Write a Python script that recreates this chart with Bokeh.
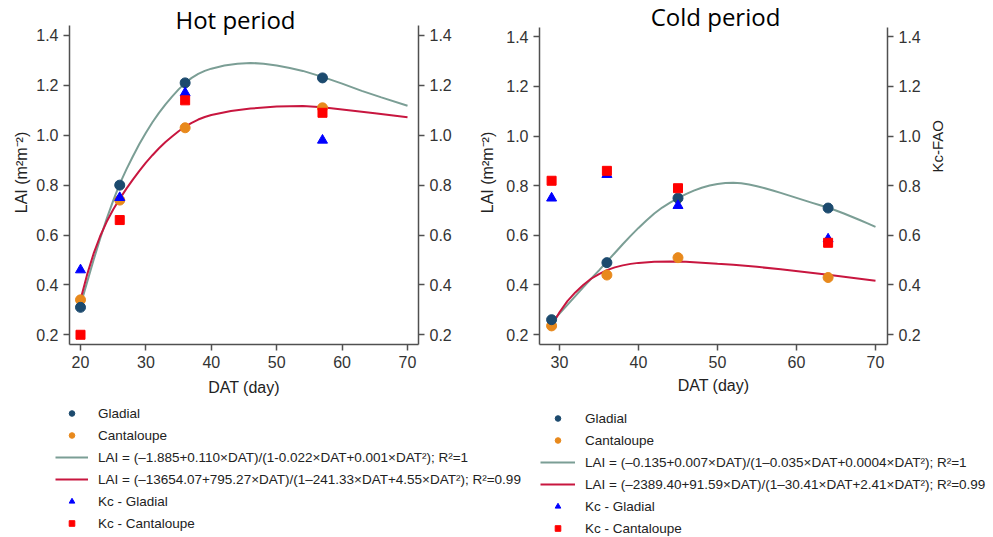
import math
from bokeh.plotting import figure
from bokeh.models import (Range1d, LinearAxis, FixedTicker, PrintfTickFormatter,
                          Label, Legend, LegendItem)
from bokeh.layouts import column, row
from bokeh.embed import file_html
from bokeh.resources import INLINE

# ---------------- data ----------------
y_ticks = [0.2, 0.4, 0.6, 0.8, 1.0, 1.2, 1.4]
hot_x_ticks = [20, 30, 40, 50, 60, 70]
cold_x_ticks = [30, 40, 50, 60, 70]

hot_days = [20, 26, 36, 57]
hot_lai_gladial = [0.31, 0.80, 1.21, 1.23]
hot_lai_cantaloupe = [0.34, 0.74, 1.03, 1.11]
hot_kc_gladial = [0.46, 0.75, 1.17, 0.98]
hot_kc_cantaloupe = [0.20, 0.66, 1.14, 1.09]

hot_fit_days_gladial = [20, 21, 22, 23, 24, 25, 26, 27, 28, 29, 30, 31, 32, 33, 34, 35, 36, 37, 38, 39, 40,
                        42, 44, 46, 48, 50, 52, 54, 57, 60, 63, 66, 70]
hot_fit_gladial = [0.32, 0.41, 0.50, 0.585, 0.665, 0.738, 0.805, 0.862, 0.915, 0.965, 1.01, 1.052, 1.09,
                   1.124, 1.155, 1.184, 1.209, 1.23, 1.246, 1.258, 1.267,
                   1.28, 1.287, 1.29, 1.287, 1.28, 1.27, 1.258, 1.234, 1.207, 1.178, 1.152, 1.118]
hot_fit_days_cantaloupe = [20, 21, 22, 23, 24, 25, 26, 27, 28, 29, 30, 31, 32, 33, 34, 35, 36, 37, 38, 39, 40,
                           43, 46, 50, 54, 57, 60, 65, 70]
hot_fit_cantaloupe = [0.34, 0.44, 0.525, 0.595, 0.653, 0.702, 0.745, 0.785, 0.822, 0.857, 0.89, 0.92, 0.948,
                      0.973, 0.995, 1.016, 1.035, 1.05, 1.063, 1.073, 1.081,
                      1.097, 1.107, 1.115, 1.117, 1.112, 1.103, 1.088, 1.072]

cold_days = [29, 36, 45, 64]
cold_lai_gladial = [0.26, 0.49, 0.75, 0.71]
cold_lai_cantaloupe = [0.235, 0.44, 0.51, 0.43]
cold_kc_gladial = [0.75, 0.845, 0.72, 0.585]
cold_kc_cantaloupe = [0.82, 0.86, 0.79, 0.57]

cold_fit_days_gladial = [29, 30, 31, 32, 33, 34, 35, 36, 37, 38, 39, 40, 41, 42, 43, 44, 45, 46, 47, 48, 49,
                         50, 51, 52, 53, 54, 55, 56, 57, 58, 59, 60, 61, 62, 63, 64, 65, 66, 67, 68, 69, 70]
cold_fit_gladial = [0.25, 0.285, 0.32, 0.355, 0.39, 0.425, 0.459, 0.494, 0.529, 0.564, 0.598, 0.630, 0.660,
                    0.688, 0.712, 0.732, 0.750, 0.766, 0.780, 0.792, 0.801, 0.807, 0.811, 0.812, 0.810,
                    0.805, 0.798, 0.790, 0.781, 0.771, 0.761, 0.751, 0.741, 0.731, 0.721, 0.711, 0.700,
                    0.688, 0.675, 0.662, 0.648, 0.634]
cold_fit_days_cantaloupe = [29, 30, 31, 32, 33, 34, 35, 36, 37, 38, 39, 40, 42, 44, 46, 48, 50, 52, 55, 58,
                            61, 64, 67, 70]
cold_fit_cantaloupe = [0.235, 0.29, 0.335, 0.37, 0.40, 0.425, 0.444, 0.46, 0.471, 0.479, 0.485, 0.489,
                       0.494, 0.495, 0.494, 0.490, 0.485, 0.481, 0.473, 0.463, 0.452, 0.441, 0.429, 0.417]

hot_legend_labels = ["Gladial", "Cantaloupe",
                     "LAI = (\u20131.885+0.110\u00d7DAT)/(1-0.022\u00d7DAT+0.001\u00d7DAT\u00b2); R\u00b2=1",
                     "LAI = (\u201313654.07+795.27\u00d7DAT)/(1\u2013241.33\u00d7DAT+4.55\u00d7DAT\u00b2); R\u00b2=0.99",
                     "Kc - Gladial", "Kc - Cantaloupe"]
cold_legend_labels = ["Gladial", "Cantaloupe",
                      "LAI = (\u20130.135+0.007\u00d7DAT)/(1\u20130.035\u00d7DAT+0.0004\u00d7DAT\u00b2); R\u00b2=1",
                      "LAI = (\u20132389.40+91.59\u00d7DAT)/(1\u201330.41\u00d7DAT+2.41\u00d7DAT\u00b2); R\u00b2=0.99",
                      "Kc - Gladial", "Kc - Cantaloupe"]

# ---------------- style ----------------
NAVY = "#1c4a6e"
ORANGE = "#e8891c"
GREEN = "#7b9e95"
CRIMSON = "#c8163f"
BLUE = "#0000ff"
RED = "#ff0000"
AXIS = "#505050"
FONT = "Liberation Sans"
NAN = float("nan")


def style_axis(ax, ticks, fmt=None, label_standoff=5):
    ax.ticker = FixedTicker(ticks=ticks)
    if fmt:
        ax.formatter = PrintfTickFormatter(format=fmt)
    ax.axis_line_color = AXIS
    ax.axis_line_width = 1.5
    ax.major_tick_line_color = AXIS
    ax.major_tick_line_width = 1.5
    ax.major_tick_out = 6
    ax.major_tick_in = 0
    ax.minor_tick_line_color = None
    ax.major_label_text_font = FONT
    ax.major_label_text_font_size = "16px"
    ax.major_label_text_color = "#333333"
    ax.major_label_standoff = 5
    ax.axis_label_text_font = FONT
    ax.axis_label_text_font_size = "16px"
    ax.axis_label_text_font_style = "normal"
    ax.axis_label_text_color = "#222222"
    ax.axis_label_standoff = label_standoff


def make_panel(width, borders, xr, yr, y_top, x_ticks, title, title_pos, days, lai_g, lai_c, kc_g, kc_c,
               fit_days_g, fit_g, fit_days_c, fit_c, bottom_std, left_std, right_label, right_std):
    bl, br, bb = borders
    # frame reaches the top of the canvas so that the title (inside the frame) is not clipped;
    # the vertical axis lines are limited to the data window with `bounds`
    p = figure(width=width, height=400, x_range=Range1d(*xr), y_range=Range1d(yr[0], y_top),
               min_border_left=bl, min_border_right=br, min_border_top=0, min_border_bottom=bb,
               toolbar_location=None, output_backend="svg")
    p.extra_y_ranges = {"kc": Range1d(yr[0], y_top)}
    p.xgrid.visible = False
    p.ygrid.visible = False
    p.outline_line_color = None
    p.background_fill_color = "white"
    p.border_fill_color = "white"

    style_axis(p.xaxis[0], x_ticks, label_standoff=bottom_std)
    p.xaxis[0].axis_label = "DAT (day)"
    style_axis(p.yaxis[0], y_ticks, "%.1f", label_standoff=left_std)
    p.yaxis[0].axis_label = "LAI (m\u00b2m\u207b\u00b2)"
    p.yaxis[0].bounds = yr

    rax = LinearAxis(y_range_name="kc")
    style_axis(rax, y_ticks, "%.1f", label_standoff=right_std)
    rax.bounds = yr
    if right_label:
        rax.axis_label = right_label
        rax.axis_label_text_font_size = "15px"
        try:
            rax.axis_label_orientation = math.pi / 2
        except Exception:
            pass
    p.add_layout(rax, "right")

    p.line(fit_days_g, fit_g, line_color=GREEN, line_width=2)
    p.line(fit_days_c, fit_c, line_color=CRIMSON, line_width=2)
    p.scatter(days, lai_c, marker="circle", size=10, fill_color=ORANGE, line_color=ORANGE)
    p.scatter(days, lai_g, marker="circle", size=10, fill_color=NAVY, line_color=NAVY)
    p.scatter(days, kc_g, marker="triangle", size=10, fill_color=BLUE, line_color=BLUE, y_range_name="kc")
    p.scatter(days, kc_c, marker="square", size=9, fill_color=RED, line_color=RED, y_range_name="kc")

    p.add_layout(Label(x=title_pos[0], y=title_pos[1], x_units="screen", y_units="screen", text=title,
                       text_align="center", text_baseline="alphabetic", text_font="Open Sans",
                       text_font_size="24px", text_color="black"))
    return p


def make_legend(width, labels, loc, glyph_w):
    f = figure(width=width, height=137, x_range=Range1d(0, 1), y_range=Range1d(0, 1),
               min_border=0, toolbar_location=None, output_backend="svg",
               x_axis_type=None, y_axis_type=None)
    f.xgrid.visible = False
    f.ygrid.visible = False
    f.outline_line_color = None
    # legend-only renderers (no visible data)
    r1 = f.scatter([NAN], [NAN], marker="circle", fill_color=NAVY, line_color=NAVY)
    r2 = f.scatter([NAN], [NAN], marker="circle", fill_color=ORANGE, line_color=ORANGE)
    r3 = f.line([NAN, NAN], [NAN, NAN], line_color=GREEN, line_width=2)
    r4 = f.line([NAN, NAN], [NAN, NAN], line_color=CRIMSON, line_width=2)
    r5 = f.scatter([NAN], [NAN], marker="triangle", fill_color=BLUE, line_color=BLUE)
    r6 = f.scatter([NAN], [NAN], marker="square", fill_color=RED, line_color=RED)
    items = [LegendItem(label=lab, renderers=[r]) for lab, r in zip(labels, [r1, r2, r3, r4, r5, r6])]
    leg = Legend(items=items, location=loc, padding=0, margin=0, spacing=4,
                 glyph_width=glyph_w, glyph_height=14, label_height=18, label_standoff=10,
                 label_text_font=FONT, label_text_font_size="13.5px", label_text_color="#222222",
                 border_line_color=None, background_fill_alpha=0)
    f.add_layout(leg)
    return f


p1 = make_panel(470, (69, 52, 56), (18.318, 71.68), (0.161, 1.4401), 0.161 + 344 / 249.4, hot_x_ticks,
                "Hot period", (166, 325), hot_days, hot_lai_gladial, hot_lai_cantaloupe,
                hot_kc_gladial, hot_kc_cantaloupe, hot_fit_days_gladial, hot_fit_gladial,
                hot_fit_days_cantaloupe, hot_fit_cantaloupe, 8, 3, None, 5)
p2 = make_panel(523, (69, 106, 53), (27.468, 71.52), (0.160, 1.4388), 0.160 + 347 / 250.25, cold_x_ticks,
                "Cold period", (176, 328), cold_days, cold_lai_gladial, cold_lai_cantaloupe,
                cold_kc_gladial, cold_kc_cantaloupe, cold_fit_days_gladial, cold_fit_gladial,
                cold_fit_days_cantaloupe, cold_fit_cantaloupe, 6, 7, "Kc-FAO", 14)

leg1 = make_legend(535, hot_legend_labels, (55, 5), 33)
leg2 = make_legend(458, cold_legend_labels, (5, 0), 35)

layout = column(row(p1, p2), row(leg1, leg2))
open("out.html", "w").write(file_html(layout, INLINE))
